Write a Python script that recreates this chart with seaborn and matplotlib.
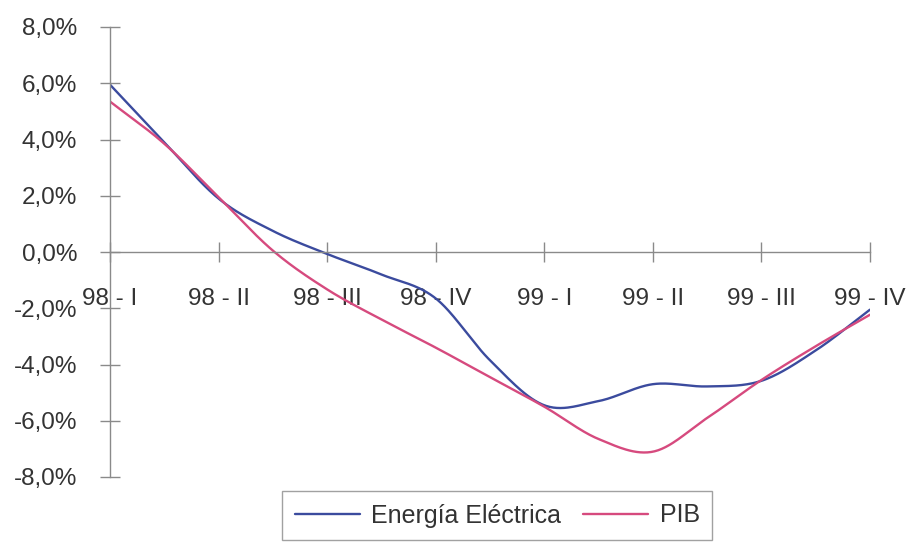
import numpy as np
import pandas as pd
import matplotlib
matplotlib.use("Agg")
import matplotlib.pyplot as plt
import seaborn as sns

# Quarterly labels and series (variation, %), sampled every half quarter
trimestres = ["98 - I", "98 - II", "98 - III", "98 - IV",
              "99 - I", "99 - II", "99 - III", "99 - IV"]
periodo = [0, 0.5, 1, 1.5, 2, 2.5, 3, 3.5, 4, 4.5, 5, 5.5, 6, 6.5, 7]
energia = [5.95, 3.90, 1.90, 0.75, -0.07, -0.80, -1.65, -3.85,
           -5.45, -5.30, -4.70, -4.78, -4.58, -3.50, -2.05]
pib = [5.35, 3.85, 1.95, 0.05, -1.33, -2.40, -3.40, -4.45,
       -5.50, -6.65, -7.10, -5.90, -4.55, -3.35, -2.23]
series = ["Energía Eléctrica", "PIB"]
colores = ["#3b4b9e", "#d64a7e"]
marcas_y = [-8, -6, -4, -2, 0, 2, 4, 6, 8]


def suavizar(x, y, n=30):
    """Catmull-Rom smoothing through every point (smoothed line style)."""
    x = np.asarray(x, float)
    y = np.asarray(y, float)
    xp = np.concatenate([[2 * x[0] - x[1]], x, [2 * x[-1] - x[-2]]])
    yp = np.concatenate([[2 * y[0] - y[1]], y, [2 * y[-1] - y[-2]]])
    t = np.linspace(0, 1, n, endpoint=False)
    xs, ys = [], []
    for i in range(1, len(xp) - 2):
        for src, dst in ((xp, xs), (yp, ys)):
            p0, p1, p2, p3 = src[i - 1:i + 3]
            dst.extend(0.5 * (2 * p1 + (-p0 + p2) * t
                              + (2 * p0 - 5 * p1 + 4 * p2 - p3) * t ** 2
                              + (-p0 + 3 * p1 - 3 * p2 + p3) * t ** 3))
    xs.append(x[-1])
    ys.append(y[-1])
    return np.array(xs), np.array(ys)


partes = []
for nombre, valores in zip(series, [energia, pib]):
    xs, ys = suavizar(periodo, valores)
    partes.append(pd.DataFrame({"periodo": xs, "valor": ys, "serie": nombre}))
datos = pd.concat(partes, ignore_index=True)

sns.set_theme(style="white")
plt.rcParams["font.family"] = ["Liberation Sans", "DejaVu Sans"]

fig = plt.figure(figsize=(9.11, 5.47), dpi=100)
ax = fig.add_axes([110 / 911, 1 - 477 / 547, 760 / 911, 450 / 547])

sns.lineplot(data=datos, x="periodo", y="valor", hue="serie",
             hue_order=series, palette=colores, sort=False,
             estimator=None, linewidth=1.7, ax=ax)

ax.set_xlim(0, 7)
ax.set_ylim(-8, 8)
ax.set_xticks(range(len(trimestres)))
ax.set_xticklabels(trimestres)
ax.set_yticks(marcas_y)
ax.set_yticklabels([f"{v:.1f}%".replace(".", ",") for v in marcas_y])
ax.set_xlabel("")
ax.set_ylabel("")

for lado in ("top", "right"):
    ax.spines[lado].set_visible(False)
ax.spines["bottom"].set_position(("data", 0))
for lado in ("left", "bottom"):
    ax.spines[lado].set_color("#8a8a8a")
    ax.spines[lado].set_linewidth(1.0)

ax.tick_params(axis="both", bottom=True, left=True, direction="inout",
               length=14, width=1.0, color="#8a8a8a",
               labelsize=17.5, labelcolor="#333333")
ax.tick_params(axis="x", pad=19)
ax.tick_params(axis="y", pad=16.5)

manejadores, etiquetas = ax.get_legend_handles_labels()
ax.get_legend().remove()
leyenda = fig.legend(manejadores, etiquetas, ncol=2, loc="upper left",
                     bbox_to_anchor=(282 / 911, 1 - 491 / 547),
                     borderaxespad=0, frameon=True, fancybox=False,
                     edgecolor="#8a8a8a", fontsize=18,
                     handlelength=2.6, handletextpad=0.45,
                     columnspacing=0.9, borderpad=0.5)
leyenda.get_frame().set_linewidth(1.0)
for texto in leyenda.get_texts():
    texto.set_color("#333333")

fig.savefig("out.png", dpi=100, facecolor="white")
